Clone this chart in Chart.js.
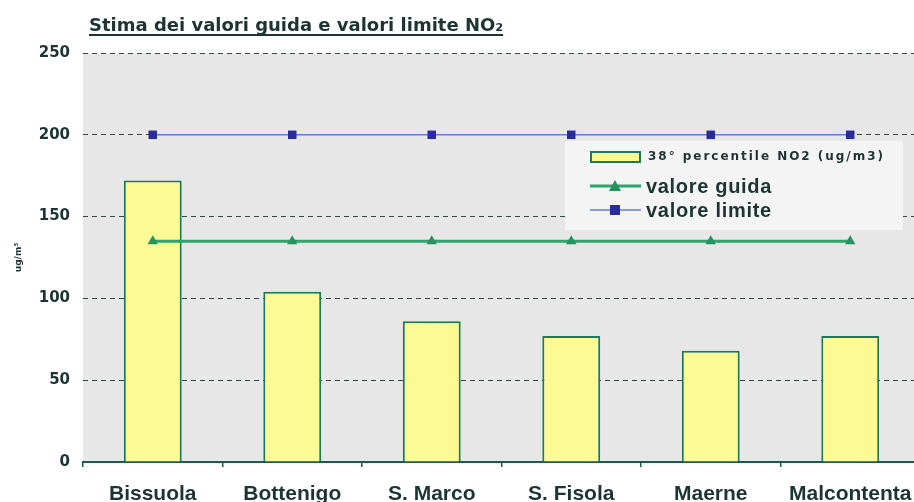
<!DOCTYPE html>
<html>
<head>
<meta charset="utf-8">
<script src="https://cdn.jsdelivr.net/npm/chart.js@4"></script>
<style>
  html, body { margin: 0; padding: 0; background: #fff; overflow: hidden; }
  canvas { display: block; }
</style>
</head>
<body>
<canvas id="c" width="926" height="502"></canvas>
<script>
// Stazioni di misura
const categories = ['Bissuola', 'Bottenigo', 'S. Marco', 'S. Fisola', 'Maerne', 'Malcontenta'];
// 98° percentile NO2 (ug/m3)
const percentile98 = [172, 104, 86, 77, 68, 77];
// Valore guida e valore limite
const valoreGuida = [135, 135, 135, 135, 135, 135];
const valoreLimite = [200, 200, 200, 200, 200, 200];
const yMin = 0, yMax = 250, yStep = 50;

const titleText = 'Stima dei valori guida e valori limite NO\u2082';
const legendLabels = ['38\u00b0 percentile NO2 (ug/m3)', 'valore guida', 'valore limite'];

const INK = '#1c3532';

// Testo su canvas allargato fino a una larghezza data tramite spaziatura lettere
function fillSpaced(ctx, text, x, y, width) {
  ctx.letterSpacing = '0px';
  const w = ctx.measureText(text).width;
  const extra = Math.max(0, (width - w) / text.length);
  ctx.letterSpacing = extra.toFixed(2) + 'px';
  ctx.fillText(text, x, y);
  ctx.letterSpacing = '0px';
  return Math.max(w, width);
}

// Sfondo grigio dell'area del grafico
const plotBackground = {
  id: 'plotBackground',
  beforeDraw(chart) {
    const { ctx, chartArea: a } = chart;
    ctx.save();
    ctx.fillStyle = '#e6e7e6';
    ctx.fillRect(a.left, a.top, a.right - a.left, a.bottom - a.top);
    ctx.restore();
  }
};

// Titolo sottolineato in alto a sinistra
const underlinedTitle = {
  id: 'underlinedTitle',
  afterDraw(chart) {
    const ctx = chart.ctx;
    ctx.save();
    ctx.font = 'bold 18px "DejaVu Sans", sans-serif';
    ctx.fillStyle = INK;
    ctx.textBaseline = 'alphabetic';
    ctx.textAlign = 'left';
    const x = 89, y = 31;
    const w = fillSpaced(ctx, titleText, x, y, 410);
    ctx.strokeStyle = INK;
    ctx.lineWidth = 1.8;
    ctx.beginPath();
    ctx.moveTo(x, y + 4);
    ctx.lineTo(x + w, y + 4);
    ctx.stroke();
    ctx.restore();
  }
};

// Legenda in un riquadro chiaro dentro l'area del grafico
const boxLegend = {
  id: 'boxLegend',
  beforeDatasetsDraw(chart) {
    const ctx = chart.ctx;
    const ds = chart.data.datasets;
    ctx.save();
    ctx.fillStyle = '#f3f4f3';
    ctx.fillRect(565, 141, 338, 89);

    // barra
    ctx.fillStyle = ds[0].backgroundColor;
    ctx.strokeStyle = ds[0].borderColor;
    ctx.lineWidth = 2;
    ctx.fillRect(591, 152, 49, 10);
    ctx.strokeRect(591, 152, 49, 10);
    ctx.fillStyle = INK;
    ctx.textBaseline = 'middle';
    ctx.font = 'bold 12px "DejaVu Sans", sans-serif';
    fillSpaced(ctx, legendLabels[0], 648, 157, 237);

    // linee con marcatori
    const rows = [[ds[1], 186], [ds[2], 210]];
    rows.forEach(([d, y], i) => {
      ctx.strokeStyle = d.borderColor;
      ctx.lineWidth = d.borderWidth;
      ctx.beginPath();
      ctx.moveTo(590, y);
      ctx.lineTo(641, y);
      ctx.stroke();
      ctx.fillStyle = d.pointBackgroundColor;
      if (d.pointStyle === 'triangle') {
        ctx.beginPath();
        ctx.moveTo(615, y - 6);
        ctx.lineTo(621, y + 5);
        ctx.lineTo(609, y + 5);
        ctx.closePath();
        ctx.fill();
      } else {
        ctx.fillRect(610, y - 5, 10, 10);
      }
      ctx.fillStyle = INK;
      ctx.font = 'bold 20px "Liberation Sans", Arial, sans-serif';
      fillSpaced(ctx, legendLabels[i + 1], 646, y + 1, 126);
    });
    ctx.restore();
  }
};

new Chart(document.getElementById('c'), {
  type: 'bar',
  data: {
    labels: categories,
    datasets: [
      {
        type: 'bar',
        label: legendLabels[0],
        data: percentile98,
        backgroundColor: '#fdf995',
        borderColor: '#1b7a5a',
        borderWidth: 2,
        barPercentage: 0.415,
        categoryPercentage: 1,
        order: 2
      },
      {
        type: 'line',
        label: legendLabels[1],
        data: valoreGuida,
        borderColor: '#2fa36c',
        backgroundColor: '#2fa36c',
        borderWidth: 3,
        pointStyle: 'triangle',
        pointRadius: 6,
        pointBackgroundColor: '#24935e',
        pointBorderWidth: 0,
        order: 1
      },
      {
        type: 'line',
        label: legendLabels[2],
        data: valoreLimite,
        borderColor: '#5f7de0',
        backgroundColor: '#5f7de0',
        borderWidth: 1.5,
        pointStyle: 'rect',
        pointRadius: 6,
        pointBackgroundColor: '#2a2c9e',
        pointBorderWidth: 0,
        order: 0
      }
    ]
  },
  options: {
    responsive: false,
    devicePixelRatio: 1,
    animation: false,
    layout: { padding: { top: 53, left: 0, right: 0, bottom: 0 } },
    plugins: {
      legend: { display: false },
      title: { display: false },
      tooltip: { enabled: false }
    },
    scales: {
      x: {
        offset: true,
        grid: {
          offset: true,
          drawOnChartArea: false,
          drawTicks: true,
          tickLength: 5,
          color: '#1b5a50',
          lineWidth: 1.5
        },
        border: { display: true, color: '#1b5a50', width: 2 },
        ticks: {
          color: INK,
          padding: 15,
          font: { family: '"Liberation Sans", Arial, sans-serif', size: 21, weight: 'bold' },
          maxRotation: 0,
          autoSkip: false
        },
        afterFit(s) {
          s.height = 40;
          s.paddingLeft = 0;
          s.paddingRight = 0;
        }
      },
      y: {
        min: yMin,
        max: yMax,
        ticks: {
          stepSize: yStep,
          color: INK,
          padding: 13,
          font: { family: '"DejaVu Sans", sans-serif', size: 15, weight: 'bold' }
        },
        grid: { drawTicks: false, color: '#2c4a47', lineWidth: 1 },
        border: { display: false, dash: [5, 4] },
        title: {
          display: true,
          text: 'ug/m\u00b3',
          color: INK,
          padding: { top: 13, bottom: 0 },
          font: { family: '"DejaVu Sans", sans-serif', size: 9, weight: 'bold' }
        },
        afterFit(s) {
          s.width = 83;
          s.paddingTop = 0;
          s.paddingBottom = 0;
        }
      }
    }
  },
  plugins: [plotBackground, boxLegend, underlinedTitle]
});
</script>
</body>
</html>
